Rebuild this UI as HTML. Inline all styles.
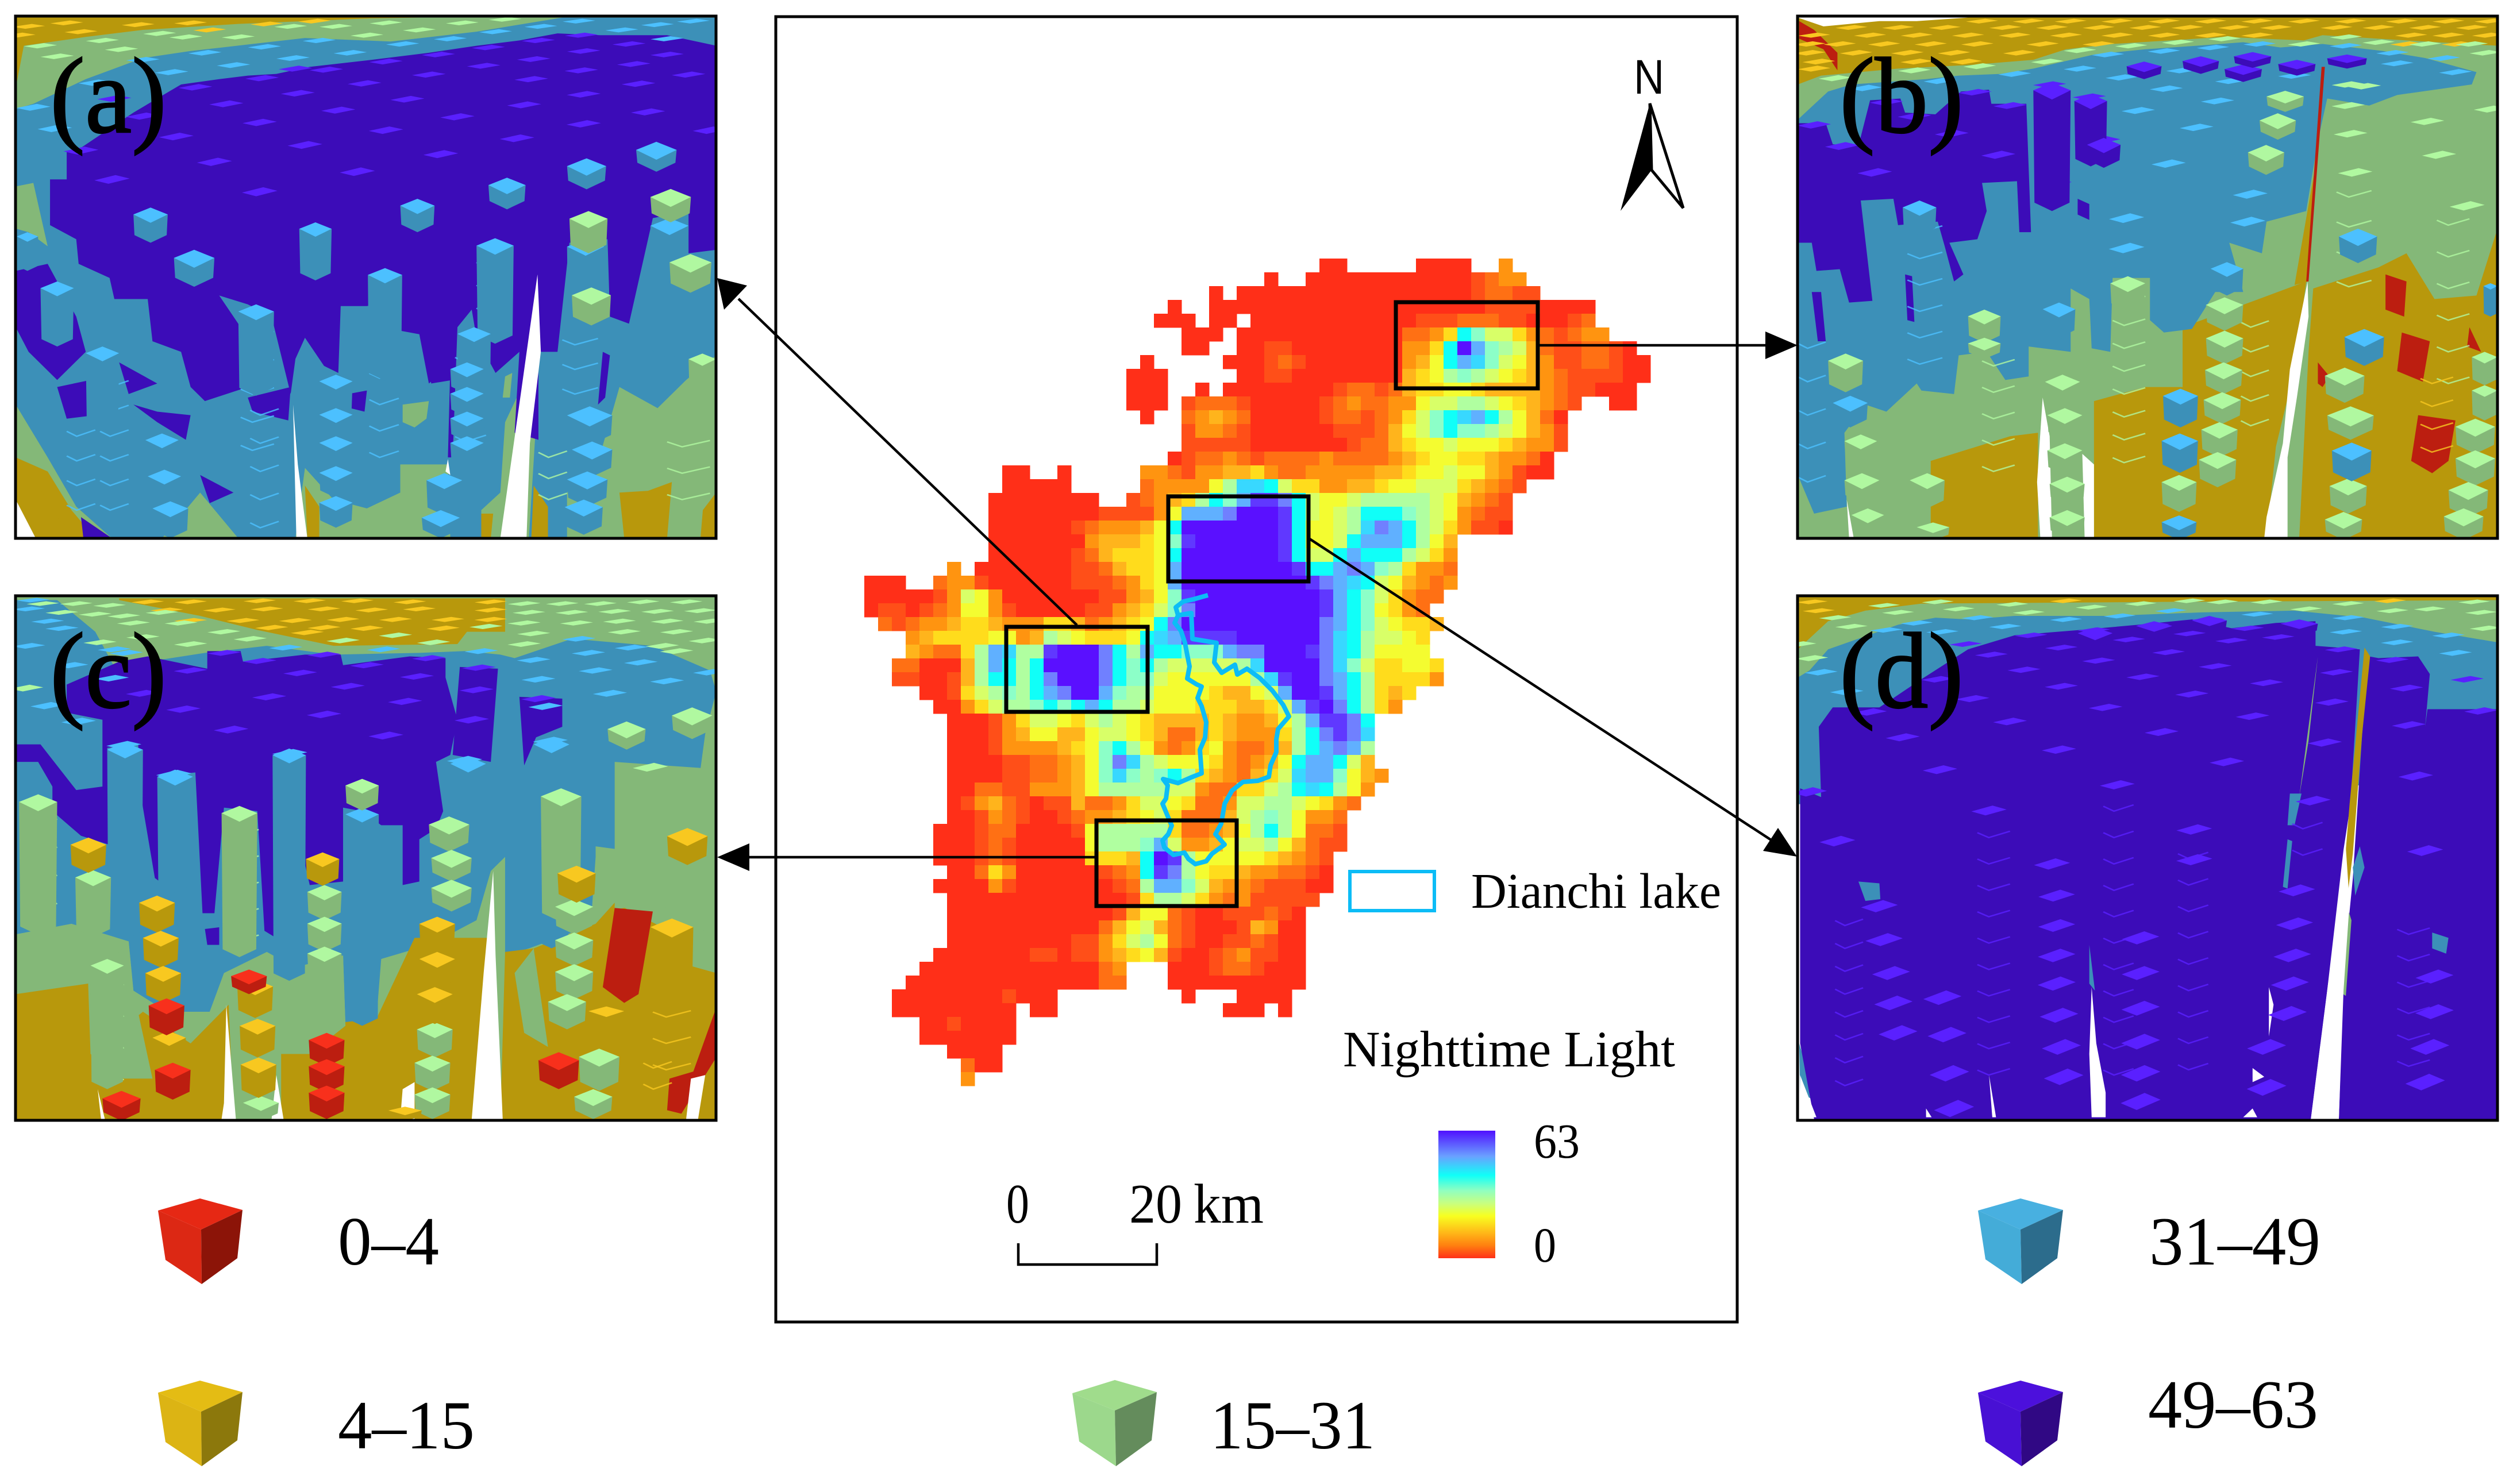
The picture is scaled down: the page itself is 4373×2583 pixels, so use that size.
<!DOCTYPE html>
<html lang="en">
<head>
<meta charset="utf-8">
<title>Nighttime light 3D block panels around Dianchi lake</title>
<style>
html,body{margin:0;padding:0;background:#fff}
svg{display:block}
text{font-family:"Liberation Serif",serif;fill:#000}
</style>
</head>
<body>
<svg id="fig" xmlns="http://www.w3.org/2000/svg" width="4373" height="2583" viewBox="0 0 4373 2583">
<defs>
<linearGradient id="nl-ramp" x1="0" y1="0" x2="0" y2="1">
<stop offset="0" stop-color="#5010ff"/><stop offset=".2" stop-color="#6aa0ff"/><stop offset=".35" stop-color="#10fff8"/><stop offset=".47" stop-color="#90ffc0"/><stop offset=".57" stop-color="#c8ff80"/><stop offset=".67" stop-color="#f8ff20"/><stop offset=".8" stop-color="#ffb818"/><stop offset=".9" stop-color="#ff8010"/><stop offset="1" stop-color="#ff3018"/>
</linearGradient>
<clipPath id="clip-a"><rect x="27" y="28" width="1219" height="909"/></clipPath>
<clipPath id="clip-b"><rect x="3128" y="28" width="1218" height="909"/></clipPath>
<clipPath id="clip-c"><rect x="27" y="1037" width="1219" height="913"/></clipPath>
<clipPath id="clip-d"><rect x="3128" y="1037" width="1218" height="913"/></clipPath>
</defs>
<rect width="4373" height="2583" fill="#fff"/>
<g id="panels"></g>
<rect x="1350" y="29" width="1673" height="2272" fill="none" stroke="#000" stroke-width="5"/>
<g id="map" shape-rendering="crispEdges"></g>
<polyline fill="none" stroke="#0cbcf6" stroke-width="8" stroke-linejoin="round" points="2102,1036 2077,1043 2059,1047 2046,1057 2050,1071 2044,1084 2055,1098 2062,1119 2066,1140 2070,1160 2066,1181 2082,1191 2091,1195 2084,1215 2091,1229 2099,1257 2097,1284 2088,1305 2091,1346 2073,1353 2050,1363 2024,1356 2032,1367 2029,1390 2023,1399 2033,1423 2039,1437 2033,1452 2023,1463 2026,1475 2042,1488 2061,1484 2068,1495 2080,1504 2099,1499 2109,1486 2131,1470 2115,1452 2125,1434 2128,1417 2131,1399 2144,1376 2163,1361 2189,1359 2208,1352 2211,1332 2221,1309 2221,1287 2224,1269 2243,1247 2233,1227 2214,1202 2192,1180 2170,1164 2153,1174 2149,1157 2126,1171 2113,1153 2117,1119 2075,1112 2073,1067 2050,1071"/>
<g fill="none" stroke="#000" stroke-width="7">
<rect x="1751" y="1091" width="246" height="148"/>
<rect x="2429" y="526" width="247" height="150"/>
<rect x="1908" y="1428" width="244" height="149"/>
<rect x="2033" y="864" width="244" height="148"/>
</g>
<g stroke="#000" stroke-width="4.5" fill="none">
<line x1="1874" y1="1088" x2="1285" y2="520"/>
<line x1="2676" y1="601" x2="3075" y2="601"/>
<line x1="1908" y1="1492" x2="1300" y2="1492"/>
<line x1="2279" y1="938" x2="3085" y2="1464"/>
</g>
<g fill="#000">
<polygon points="1248,484 1260,539 1300,497"/>
<polygon points="3128,601 3072,577 3072,625"/>
<polygon points="1248,1492 1304,1468 1304,1516"/>
<polygon points="3127,1491 3094,1441 3068,1481"/>
</g>
<g fill="none" stroke="#000" stroke-width="5">
<rect x="27" y="28" width="1219" height="909"/>
<rect x="3128" y="28" width="1218" height="909"/>
<rect x="27" y="1037" width="1219" height="913"/>
<rect x="3128" y="1037" width="1218" height="913"/>
</g>
<g font-size="188" stroke="#000" stroke-width="2.5">
<text x="87" y="230" textLength="203" lengthAdjust="spacingAndGlyphs">(a)</text>
<text x="3201" y="230" textLength="216" lengthAdjust="spacingAndGlyphs">(b)</text>
<text x="87" y="1231" textLength="203" lengthAdjust="spacingAndGlyphs">(c)</text>
<text x="3201" y="1231" textLength="216" lengthAdjust="spacingAndGlyphs">(d)</text>
</g>
<g>
<text x="2843" y="163" font-size="84" textLength="53" lengthAdjust="spacingAndGlyphs" style="font-family:'Liberation Sans',sans-serif">N</text>
<polygon points="2871,180 2820,367 2874,296" fill="#000"/>
<polygon points="2871,180 2929,362 2874,296" fill="#fff" stroke="#000" stroke-width="5"/>
</g>
<rect x="2349" y="1517" width="147" height="68" fill="none" stroke="#0cbcf6" stroke-width="6"/>
<text x="2560" y="1580" font-size="87" textLength="435" lengthAdjust="spacingAndGlyphs">Dianchi lake</text>
<text x="2337" y="1856" font-size="89" textLength="578" lengthAdjust="spacingAndGlyphs">Nighttime Light</text>
<rect x="2503" y="1968" width="99" height="222" fill="url(#nl-ramp)"/>
<text x="2669" y="2015" font-size="86" textLength="80" lengthAdjust="spacingAndGlyphs">63</text>
<text x="2669" y="2196" font-size="86" textLength="39" lengthAdjust="spacingAndGlyphs">0</text>
<text x="1751" y="2128" font-size="98" textLength="40" lengthAdjust="spacingAndGlyphs">0</text>
<text x="1965" y="2128" font-size="98" textLength="92" lengthAdjust="spacingAndGlyphs">20</text>
<text x="2077" y="2128" font-size="98" textLength="122" lengthAdjust="spacingAndGlyphs">km</text>
<polyline points="1772,2164 1772,2201 2013,2201 2013,2164" fill="none" stroke="#000" stroke-width="4.5"/>
<g id="cubes"></g>
</svg>
<script>
// Legend classes of the block panels
const classLabels = ['0–4', '4–15', '15–31', '31–49', '49–63'];
const classTop = ['#e62814', '#e4bc14', '#a0dc8c', '#48b0e0', '#4c10dc'];
const classLeft = ['#dc2814', '#dcb414', '#9cd88c', '#44acd8', '#4810d4'];
const classRight = ['#8c1408', '#8c780c', '#648c5c', '#2c6c8c', '#300884'];

// Nighttime light palette: index = level 0..15 of the map raster
const lightRamp = ['#ff2f18','#ff4f18','#ff7014','#ff9410','#ffb41c','#ffdc1c','#f4fc30','#d8ff68','#b0ffa0','#8cffc8','#10fff8','#38d8ff','#60b0ff','#7080ff','#6038ff','#5a10ff'];

// Map raster, row per 24 px, "startColumn:levels" runs
const lightRows = [
"34:00|41:00|43:00|47:3",
"30:0|33:000000000000|45:1233",
"26:0|28:0000000000000000|44:012211",
"23:0|26:0000000000000|39:0000000|46:11110|51:000",
"22:000|26:00|29:00000000000|40:0111222110|50:0012",
"24:000|28:000000000000|40:2235a97753|50:21233",
"24:00|28:0011|32:00000000|40:335afc9874|50:2112210",
"21:0|27:000121|33:0000000|40:346acb9764|50:31122100",
"20:000|28:0011|32:00000000|40:4568987654|50:32111100",
"20:000|25:0|27:00000000|35:12212|40:4556654444|50:3211000",
"20:000|24:12221|29:00000|34:123223|40:3677887654|50:321|55:00",
"21:0|24:23432|29:00000|34:12212|39:3579abca86|49:420",
"24:13321|29:000000|35:1112|39:4679a99876|49:431",
"24:11111|29:000000|35:0122|39:4566766654|49:331",
"23:012232|29:1222232222|39:345665543|48:320",
"11:00|15:0|21:33213344|29:5322333334|39:45667664|47:3100",
"11:00000|21:23333|26:68bba755|34:334456|40:677754321",
"10:00000000|20:123458a9ce|30:eda7667888|40:88764321",
"10:00000000|18:1111|22:36cccdff|30:fea76|35:78aaa|40:98763211",
"10:000000|16:123334|22:6a|24:fffffff|31:ea66|35:78bdc|40:a8753|45:110",
"10:0000000|17:34445|22:69|24:e|25:ffffff|31:ea66|35:7accc|40:a864",
"10:000000|16:124555|22:6a|24:fffffff|31:ea77|35:acaaa|40:8753",
"7:3|9:0000000|16:112455|22:6c|24:ffffffff|32:eaa|35:cdc98|40:5332",
"1:000|6:2331|10:000000|16:111235|22:6c|24:fffffffff|33:ed|35:cba76|40:4323",
"1:000|4:001376|10:3|11:0000000|18:1134|22:69e|25:fffffffff|34:e|35:ca975|40:322",
"1:011012366|10:3|11:1|12:00000|17:11345|22:79d|25:fffffffff|34:e|35:ca965|40:32",
"2:21|4:233455|10:433355|16:42345|21:6ad|24:ffffffffff|34:d|35:ca976|40:554",
"4:345555|10:6634876555|20:6abceeeeff|30:ffffdba877|40:65",
"4:432258|10:cb88efffda|20:8caa999cdd|30:fffedba866|40:66",
"3:22000|8:48|10:ca8affffda|20:9a8777778b|30:ffffdb9755|40:665",
"3:11|5:00148|10:aa8adfffda|20:9976666668|30:beffdca855|40:553",
"5:00157|10:898acdffc9|20:8866665446|30:7cffeca854|40:5",
"6:0035|10:7889a9aca8|20:8766655544|30:57cefda853",
"7:000|10:1357765787|20:6544445433|30:468ceeda",
"7:000|10:1346644677|20:6542245433|30:358adedb",
"7:000|10:133334569a|20:8632356322|30:348acdc8",
"7:0000|11:11223469d|20:b876665323|30:46acca74",
"7:0000|11:11223469b|20:989a854324|30:57bcc9643",
"7:00|9:22113334688|20:8887732255|30:78aba863",
"7:013|10:4210114223|20:5776522377|30:8876532",
"7:001|10:3210012334|20:5675222478|30:986332",
"6:0001|10:2200001688|20:8885223468|30:a86221",
"6:0001|10:2100000688|20:89c7334677|30:864211",
"6:0001|10:2100000555|20:4afe866666|30:54321",
"7:002|10:5300000012|20:3aed865543|30:32210",
"6:0000|10:3100000001|20:28cc974332|30:11100",
"7:0000000000000|20:1588753231|30:1111",
"7:000000000000|19:1|20:4662100111|30:210",
"7:00000000000|18:24|20:6742100014|30:300",
"7:000000000|16:1135|20:7862100112|30:100",
"6:0000000|13:1101134|20:5641001231|30:100",
"5:0000000000000|18:23|23:0001221000",
"4:00000000000000|18:22|23:0000000000",
"3:000000001000|24:0|28:0000",
"3:000000000|13:00|27:000|31:0",
"5:0010000",
"5:0000000",
"7:0000",
"8:200",
"8:3"
];
const mapLeft = 1480;
const mapTop = 450;
const mapCell = 24;

// Block colours of the perspective panels
const sideColor = {y:'#b8980c', g:'#84b878', b:'#3c90b8', i:'#3c0cb8', r:'#bc1e10', w:'#ffffff'};
const topColor = {y:'#f8c820', g:'#b0f8a0', b:'#4cc0ff', i:'#5a20ff', r:'#f8301c'};

// Panel (a): regions, cubes, block tops, stacked chevrons
const panelARegions = [
['y','33,45 1503,45 1503,1530 33,1530'],
['g','33,250 50,130 180,105 300,85 500,68 780,52 1100,45 1503,45 1503,1530 200,1530 150,1450 100,1340 33,1300'],
['b','33,310 70,295 180,225 300,165 400,145 530,125 640,108 820,118 1000,90 1180,50 1503,50 1503,1010 1440,1080 1380,1160 1300,1100 1260,1290 1190,1400 1190,1530 1110,1530 1125,1200 1130,1000 1060,1200 1050,1400 1010,1450 1010,1530 945,1530 940,1320 840,1320 840,1400 770,1445 700,1420 640,1330 620,1530 500,1530 420,1400 340,1530 235,1530 160,1440 100,1300 33,1150'],
['i','140,430 170,420 280,320 380,240 460,225 520,215 580,210 650,190 780,170 900,150 1000,130 1090,115 1170,95 1260,100 1400,100 1503,130 1503,710 1445,720 1445,600 1370,620 1320,920 1280,900 1275,680 1195,690 1170,1000 1130,1000 1130,1250 1080,1230 1090,1000 1040,1060 1000,960 990,880 960,930 950,1300 940,1300 945,1040 900,1090 880,950 840,940 840,850 770,870 715,870 710,1060 680,1040 640,960 620,1020 610,1120 570,900 520,865 460,840 520,960 520,1100 430,1140 400,1100 380,1000 320,970 310,850 240,850 230,790 165,750 160,680 105,640 105,510 140,510'],
['i','33,770 100,750 160,900 180,1000 120,1080 60,1000 33,930'],
['i','120,1100 190,1080 200,1180 140,1190'],
['i','250,1030 330,1090 270,1120'],
['i','280,1150 330,1170 400,1180 390,1250 330,1200'],
['i','420,1350 490,1400 440,1430'],
['i','520,1130 610,1100 605,1195 530,1170'],
['i','730,1120 770,1110 765,1170 735,1160'],
['i','900,1050 950,1030 950,1080 905,1090'],
['i','1265,1000 1280,1010 1270,1130 1255,1150'],
['i','170,1470 235,1530 175,1530'],
['y','33,1320 75,1370 125,1480 175,1530 33,1530'],
['y','1300,1400 1360,1395 1410,1370 1400,1530 1310,1530'],
['y','640,1380 670,1440 670,1530 645,1530'],
['y','1120,1380 1150,1440 1150,1530 1115,1530'],
['y','1010,1460 1035,1460 1030,1530 1010,1530'],
['y','1475,1450 1503,1400 1503,1530 1470,1530'],
['g','845,1150 900,1140 895,1190 870,1215 845,1200'],
['g','1060,1070 1075,1060 1070,1130 1055,1130'],
['g','33,530 70,520 100,700 60,660 33,650'],
['w','1128,780 1135,1000 1112,1260 1105,1530 1050,1530 1095,1100'],
['w','615,1150 622,1530 645,1530 625,1320'],
['w','33,1420 75,1530 33,1530'],
['w','940,1305 945,1350 935,1340']
];
const panelACubes = [
[1190,680,78,270,'b'],[1365,620,80,400,'b'],[1195,600,80,120,'g'],[1365,537,85,95,'g'],[1405,722,88,110,'g'],[1200,817,82,108,'g'],[1445,1005,58,120,'g'],
[840,565,72,95,'b'],[1025,505,78,90,'b'],[1190,450,82,88,'b'],[1335,403,85,85,'b'],[280,590,72,100,'b'],[628,632,68,165,'b'],[365,710,85,105,'b'],[1000,677,78,300,'b'],[772,762,72,320,'b'],[85,800,70,185,'b'],[500,865,75,260,'b'],[960,930,70,300,'b'],[180,985,70,240,'b'],[35,660,45,110,'b'],[670,1065,70,120,'b'],[1190,1155,95,110,'b'],[1200,1255,85,100,'b'],[1190,1340,85,100,'b'],[1185,1420,80,100,'b'],[895,1345,75,120,'b'],[885,1450,80,80,'b'],[305,1232,70,100,'b'],[310,1335,70,110,'b'],[320,1425,75,105,'b'],[670,1160,70,100,'b'],[670,1240,70,90,'b'],[670,1325,70,90,'b'],[670,1410,70,90,'b'],[945,1030,70,90,'b'],[945,1100,70,85,'b'],[945,1170,70,85,'b'],[945,1240,70,85,'b']
];
const panelATops = {
y:[[60,75],[140,65],[290,70],[400,65],[560,68],[660,60],[40,100],[170,90],[440,85]],
g:[[85,130],[120,160],[215,115],[255,140],[335,95],[390,105],[500,105],[610,75],[705,75],[810,65],[880,85],[970,65],[1060,55],[770,100]],
b:[[430,150],[490,185],[555,133],[615,165],[670,115],[735,150],[845,125],[945,110],[1040,90],[1135,75],[1215,60],[1305,85],[1380,70],[1455,60],[1400,110],[200,235],[300,170],[360,205],[70,305],[115,365]],
i:[[410,248],[550,222],[620,195],[685,198],[810,175],[920,155],[1025,135],[1130,115],[1220,100],[1320,125],[1400,155],[1225,145],[1120,168],[1015,187],[900,212],[765,237],[625,265],[475,295],[300,330],[240,280],[1330,182],[1220,200],[1115,225],[1445,212],[1340,238],[1225,268],[1100,298],[960,332],[855,282],[710,313],[545,348],[370,388],[810,370],[640,412],[1360,318],[1225,352],[1085,393],[1490,370],[925,438],[750,488],[450,460],[170,428],[235,510],[545,545]]
};
const panelAStacks = [[505,960,70,80,5,'b'],[955,1030,65,75,4,'b'],[775,850,62,75,7,'b'],[1000,760,65,65,3,'b'],[1180,980,75,70,3,'b'],[210,1100,60,70,6,'b'],[1400,1270,90,75,3,'g'],[140,1240,60,70,4,'b'],[525,1180,60,80,5,'b'],[1130,1300,60,60,3,'g']];

// Panel (b)
const panelBRegions = [
['y','35,45 1535,45 1535,1530 35,1530'],
['r','38,60 70,85 120,150 120,200 90,140 38,110'],
['g','35,240 85,215 250,195 400,185 540,170 610,140 710,125 950,105 1120,115 1160,100 1340,115 1535,130 1535,1530 35,1530'],
['y','860,930 1125,800 1100,1050 1060,1270 1040,1530 670,1530 670,1140 780,1100 860,1100'],
['y','490,1240 550,1230 550,1530 320,1530 320,1310'],
['y','1140,820 1280,760 1340,720 1400,850 1490,840 1535,650 1535,1530 1110,1530 1130,1000'],
['y','1125,620 1145,470 1130,800 1100,810'],
['b','35,340 100,260 150,240 310,225 380,215 470,210 540,195 670,155 780,140 890,130 990,120 1070,135 1160,125 1290,145 1380,165 1490,205 1480,240 1320,270 1260,300 1170,280 1150,400 1125,600 1040,630 1030,720 960,690 990,830 930,830 880,935 820,945 790,910 790,790 710,790 705,1000 665,990 660,850 620,820 620,1000 530,985 530,1070 480,1080 440,1000 380,1010 370,1120 300,1110 290,1090 225,1170 180,1150 135,1230 140,1440 70,1460 35,1350 35,890'],
['i','35,350 95,350 110,410 165,415 190,285 255,280 265,320 330,325 385,260 445,255 450,295 525,295 535,660 510,660 505,515 430,520 440,600 420,680 360,690 390,780 370,800 350,700 335,630 250,640 240,565 170,570 195,855 145,860 125,765 75,770 65,690 35,690'],
['i','265,780 280,785 285,915 270,910'],
['i','65,830 85,830 95,970 78,970'],
['i','635,565 660,580 660,625 635,610'],
['r','1295,780 1340,800 1335,900 1295,880'],
['r','1330,945 1390,970 1375,1085 1320,1055'],
['r','1365,1180 1445,1195 1430,1310 1395,1345 1350,1310'],
['r','1150,1030 1175,1070 1160,1100 1150,1090'],
['r','1475,930 1500,1000 1470,985'],
['r','1158,190 1165,190 1130,800 1125,800'],
['w','1128,800 1130,900 1105,1130 1085,1300 1085,1530 1035,1530 1040,1470 1075,1260 1090,1050'],
['w','560,1130 575,1240 580,1530 555,1530 548,1370'],
['w','645,1290 670,1320 670,1530 650,1530'],
['w','140,1420 155,1530 145,1530'],
['w','35,50 90,75 210,60 290,60 400,50 35,45']
];
const panelBCubes = [
[540,235,80,365,'i'],[628,268,70,205,'i'],[655,392,72,85,'i'],[740,175,75,50,'i'],[860,160,78,50,'i'],[950,183,80,50,'i'],[970,148,80,45,'i'],[1065,170,80,45,'i'],[1170,155,85,40,'i'],
[1040,258,80,60,'g'],[1025,322,78,75,'g'],[1000,412,78,85,'g'],
[400,880,70,95,'g'],[705,785,75,100,'g'],[910,845,80,95,'g'],[910,940,80,95,'g'],[908,1030,80,90,'g'],[905,1115,80,90,'g'],[900,1200,78,100,'g'],[895,1285,80,100,'g'],[815,1350,75,105,'g'],[1165,1045,85,100,'g'],[1170,1155,100,95,'g'],[1175,1360,80,100,'g'],[1165,1455,80,80,'g'],[1445,1190,85,100,'g'],[1445,1280,85,100,'g'],[1430,1370,85,100,'g'],[1420,1445,85,90,'g'],[1480,1095,55,100,'g'],[1480,1000,55,95,'g'],[275,1345,75,100,'g'],[135,1235,70,80,'g'],[135,1345,75,85,'g'],[150,1445,70,85,'g'],[290,1485,70,50,'g'],[400,960,70,60,'g'],[565,1065,75,90,'g'],[570,1160,75,90,'g'],[570,1260,75,90,'g'],[575,1355,75,80,'g'],[575,1450,75,80,'g'],[100,1005,75,110,'g'],
[1195,650,82,98,'b'],[1207,935,85,105,'b'],[818,1105,75,110,'b'],[815,1232,78,112,'b'],[1180,1258,85,110,'b'],[815,1465,75,70,'b'],[920,745,70,95,'b'],[110,1125,75,90,'b'],[560,860,70,100,'b'],[260,570,72,100,'b'],[1505,805,30,95,'b']
];
const panelBTops = {
y:[[430,60],[530,60],[620,60],[720,60],[820,60],[920,60],[1020,60],[1120,60],[1220,60],[1330,60],[1430,60],[1520,60],[150,78],[250,78],[350,78],[480,78],[580,78],[680,78],[780,78],[870,78],[970,78],[1060,78],[1190,78],[1280,78],[1380,78],[1480,78],[70,100],[190,100],[290,100],[400,100],[500,100],[610,100],[720,100],[820,100],[920,100],[1020,100],[1350,100],[1430,100],[1515,100],[60,125],[125,125],[220,125],[320,125],[420,125],[560,125],[680,125],[1340,125],[1450,125],[60,150],[160,150],[270,150],[370,150],[510,150],[80,175],[290,175],[395,175],[70,195]],
g:[[640,143],[750,130],[850,120],[950,110],[1120,125],[1210,105],[1280,120],[1380,125],[1480,125],[1510,150],[425,188],[570,175],[285,200],[115,222],[1215,240],[1215,300],[1220,380],[1385,345],[1410,440],[1230,490],[1470,585],[1520,310],[1250,245]],
b:[[820,145],[925,135],[1025,125],[1210,130],[1310,150],[1420,165],[1445,205],[1320,180],[700,155],[640,195],[500,210],[340,230],[180,250],[1100,215],[860,200],[965,230],[730,220],[825,252],[935,287],[890,362],[765,314],[830,465],[1005,552],[740,620],[740,705],[1000,630]],
i:[[575,240],[660,275],[415,262],[490,300],[225,290],[285,330],[70,355],[130,415],[365,380],[465,440],[200,490],[580,345],[690,398],[585,520]]
};
const panelBStacks = [[710,860,70,65,8,'g'],[270,660,75,75,6,'b'],[1190,560,75,85,4,'g'],[1405,640,70,90,6,'g'],[430,1040,70,75,5,'g'],[985,930,60,70,5,'g'],[35,990,60,95,5,'b'],[1370,1090,70,65,4,'y']];

// Panel (c)
const panelCRegions = [
['g','33,30 1503,30 1503,1520 33,1520'],
['y','250,35 1060,35 1060,130 980,130 960,165 700,170 540,125 420,85 250,40'],
['b','33,40 120,40 200,130 240,230 430,190 560,170 700,195 880,190 975,185 1050,195 1080,205 1200,150 1370,170 1490,240 1503,300 1480,420 1470,520 1330,520 1320,590 1305,750 1250,740 1250,770 1240,960 1210,980 1110,1030 1060,1050 1060,770 1030,810 1000,950 930,1000 900,1020 800,1060 790,1230 725,1250 720,1050 640,1100 560,1040 470,1100 440,1210 350,1210 280,1150 270,1010 150,960 33,990'],
['i','140,280 250,215 310,200 435,235 435,185 505,185 510,215 640,195 715,195 720,225 860,200 935,205 935,260 960,380 945,480 915,500 930,640 915,690 880,720 880,840 845,850 845,680 800,680 760,640 720,630 720,840 650,850 640,790 585,1005 555,980 540,640 470,630 450,930 425,930 410,530 335,540 345,850 325,830 295,590 290,450 225,460 240,740 170,710 110,640 110,570 80,500 33,500 33,450 85,450 160,580 215,570 215,380 140,360'],
['i','965,230 1045,235 1030,500 950,480'],
['i','1090,315 1180,320 1180,400 1125,430 1100,510'],
['i','430,975 460,970 460,1020 435,1020'],
['y','33,1160 185,1130 190,1330 300,1210 400,1300 480,1190 490,1520 33,1520'],
['y','590,1330 640,1320 720,1240 790,1230 870,1000 1000,1000 1030,1000 1040,1520 590,1520'],
['y','1060,1040 1120,1030 1250,960 1290,900 1503,1050 1503,1520 1050,1520'],
['g','190,1130 270,1010 280,1150 320,1400 260,1400 190,1330'],
['g','1290,500 1500,520 1503,1100 1450,1080 1370,900 1290,920'],
['g','1370,770 1503,700 1503,1000 1380,900'],
['g','570,1100 720,1050 725,1250 650,1330 590,1330'],
['g','1080,1100 1120,1030 1150,1310 1100,1270'],
['r','1290,915 1370,925 1340,1160 1310,1185 1265,1140'],
['r','1405,1400 1455,1380 1500,1210 1503,1340 1430,1500 1400,1490'],
['w','1035,810 1040,1050 1055,1515 990,1515 1015,1100'],
['w','475,1190 495,1515 465,1515 470,1470'],
['w','205,1430 220,1515 212,1515'],
['w','845,1430 870,1410 870,1515 840,1515'],
['w','1450,1400 1480,1390 1465,1515 1440,1515'],
['w','580,1390 595,1515 570,1515']
];
const panelCCubes = [
[225,445,75,560,'b'],[330,522,75,350,'b'],[572,462,70,660,'b'],[725,630,70,620,'b'],[945,485,75,400,'b'],[1120,430,75,600,'b'],
[725,548,70,90,'g'],[40,592,80,400,'g'],[158,808,75,190,'g'],[465,625,75,430,'g'],[645,850,72,100,'g'],[645,940,72,100,'g'],[645,1025,72,95,'g'],[900,655,85,100,'g'],[905,750,85,90,'g'],[905,835,85,90,'g'],[1135,575,85,380,'g'],[1165,890,80,100,'g'],[1165,985,80,95,'g'],[1165,1075,80,100,'g'],[1150,1160,80,100,'g'],[875,1240,75,100,'g'],[870,1335,75,100,'g'],[870,1425,75,90,'g'],[1215,1315,85,120,'g'],[1205,1430,80,85,'g'],[510,1450,75,70,'g'],[1275,385,80,80,'g'],[1410,345,85,90,'g'],[190,1060,70,370,'g'],
[148,715,75,100,'y'],[642,757,70,95,'y'],[292,880,75,105,'y'],[300,980,75,105,'y'],[305,1080,75,105,'y'],[880,940,75,105,'y'],[880,1040,75,105,'y'],[875,1140,75,105,'y'],[1170,795,80,105,'y'],[1400,688,85,105,'y'],[498,1118,75,110,'y'],[503,1230,75,110,'y'],[505,1340,75,115,'y'],[815,1480,70,40,'y'],[1235,1195,75,50,'y'],[1365,945,90,250,'y'],[320,1265,70,100,'y'],
[312,1172,75,105,'r'],[325,1355,75,105,'r'],[215,1435,80,85,'r'],[648,1270,75,95,'r'],[648,1345,75,95,'r'],[648,1420,75,95,'r'],[1130,1325,85,105,'r'],[485,1090,75,70,'r']
];
const panelCTops = {
y:[[310,45],[400,45],[545,42],[650,42],[750,42],[860,45],[1030,45],[350,68],[460,68],[560,65],[680,65],[780,68],[880,65],[1030,68],[400,98],[510,98],[620,98],[720,95],[830,95],[940,95],[1030,95],[570,118],[680,118],[770,120],[930,120],[645,132]],
g:[[90,50],[160,50],[230,55],[1100,50],[1180,50],[1260,50],[1350,45],[1440,45],[130,75],[200,80],[260,85],[340,75],[1110,75],[1200,75],[1290,72],[1380,72],[1470,70],[1020,115],[1100,105],[1210,105],[1300,100],[1400,100],[1490,100],[470,130],[380,105],[280,105],[210,160],[300,145],[400,165],[525,150],[720,155],[830,140],[910,160],[1120,135],[1310,130],[1420,130],[1100,165],[1390,170],[1480,155],[1420,185],[55,290],[1365,515]],
b:[[70,40],[60,65],[100,100],[60,170],[130,120],[150,225],[240,180],[265,190],[235,262],[165,385],[100,340],[600,175],[805,180],[1010,185],[1215,150],[1325,175],[1120,210],[1235,190],[1130,265],[1250,240],[1345,217],[1400,270],[1280,305],[1490,245],[1145,342],[1155,440],[260,452],[365,535],[608,475],[975,495]],
i:[[470,190],[545,213],[680,195],[770,225],[900,205],[400,240],[630,247],[875,257],[1005,232],[730,285],[300,305],[1000,295],[565,315],[850,328],[385,350],[680,365],[990,380],[485,408],[810,425],[1130,320]]
};
const panelCStacks = [[50,680,70,80,4,'g'],[478,710,65,75,5,'g'],[1140,660,75,70,4,'g'],[730,710,60,70,4,'b'],[340,610,60,70,3,'b'],[1370,1000,80,75,6,'y'],[200,1150,60,90,4,'g'],[1350,1370,60,60,2,'y']];

// Panel (d)
const panelDRegions = [
['y','35,30 1535,30 1535,220 35,260'],
['g','35,180 100,100 180,70 300,50 840,45 1535,40 1535,260 35,300'],
['b','35,260 60,240 100,180 250,110 330,90 400,95 500,85 700,85 900,75 1100,70 1250,90 1400,130 1535,160 1535,560 1380,560 80,620 35,620'],
['b','38,1300 70,1440 95,1480 40,1440'],
['i','40,575 85,600 80,400 110,345 210,345 300,265 400,180 500,140 640,125 765,110 880,95 965,120 1060,105 1145,100 1145,170 1240,180 1220,620 1205,750 1170,1150 1135,1515 70,1515 40,1300'],
['i','1260,200 1280,205 1365,200 1390,250 1380,400 1385,350 1535,350 1535,1515 1195,1515 1205,1100 1225,830 1245,420'],
['y','1250,175 1262,200 1245,420 1225,760 1212,900 1205,830 1218,620'],
['g','1150,200 1130,440 1110,600 1140,300'],
['b','1090,590 1115,590 1100,680 1085,680'],
['b','1085,720 1095,725 1085,860 1075,855'],
['b','165,840 210,845 212,890 180,895'],
['b','1395,985 1430,1000 1425,1045 1395,1030'],
['g','1215,920 1190,1040 1180,1140 1210,1165 1222,950'],
['b','1240,740 1250,800 1230,880 1225,800'],
['b','660,1020 672,1150 660,1130'],
['w','1210,745 1218,900 1205,1150 1195,1515 1135,1515 1170,1150'],
['w','40,1390 75,1510 40,1510'],
['w','445,1390 460,1510 452,1510'],
['w','665,1140 675,1300 695,1440 695,1510 665,1510 660,1330'],
['w','310,1485 322,1510 310,1510'],
['w','1010,1370 1035,1395 1010,1410'],
['w','990,1510 1010,1485 1020,1510'],
['w','1045,1140 1055,1190 1045,1280']
];
const panelDCubes = [[760,100,78,50,'i'],[880,85,75,48,'i'],[1070,95,80,45,'i'],[635,118,75,60,'i']];
const panelDTops = {
y:[[65,45],[80,70],[610,42],[1305,42]],
g:[[115,90],[150,115],[220,55],[250,75],[335,45],[380,65],[495,52],[530,75],[665,60],[770,50],[875,42],[945,45],[1040,45],[1125,65],[1215,50],[1310,70],[1390,65],[1485,45],[1500,75],[1510,120],[65,205],[40,165]],
b:[[85,245],[225,125],[290,105],[345,130],[420,90],[480,115],[610,95],[725,85],[835,70],[1020,80],[1215,90],[1210,130],[1320,115],[1320,160],[1430,140],[1445,190],[140,300]],
i:[[395,165],[450,195],[535,140],[600,175],[670,125],[745,152],[798,110],[915,95],[1000,120],[1105,105],[875,135],[965,155],[1065,145],[1200,180],[335,265],[520,238],[680,212],[775,258],[830,188],[930,228],[1040,275],[1190,245],[600,285],[1310,210],[880,307],[695,345],[1180,330],[410,320],[1340,290],[1470,265],[1500,355],[1345,395],[1010,370],[815,415],[490,385],[190,358],[1165,445],[595,465],[260,430],[955,500],[340,522],[1360,540],[720,565],[1140,610],[445,638],[60,585],[885,692],[120,725],[1380,752],[580,790],[1105,865],[885,778],[210,910],[590,880],[770,1000],[1100,960],[220,1005],[1400,1110],[770,1100],[1095,1050],[235,1100],[345,1170],[1400,1210],[240,1185],[770,1200],[355,1275],[1090,1130],[1040,1310],[1085,1215],[770,1295],[250,1270],[1390,1310],[360,1385],[1380,1410],[770,1385],[1040,1425],[770,1465],[370,1485],[590,1130],[590,1050],[590,965],[595,1220],[600,1310],[605,1395]]
};
const panelDStacks = [[420,715,70,75,10,'i'],[690,640,65,75,11,'i'],[850,775,65,75,9,'i'],[115,965,60,65,8,'i'],[1320,990,70,75,6,'i'],[1095,690,65,75,2,'i']];

const SVGNS = 'http://www.w3.org/2000/svg';
const panelsRoot = document.getElementById('panels');
const mapRoot = document.getElementById('map');
const cubesRoot = document.getElementById('cubes');

function node(parent, tag, attrs) {
  const el = document.createElementNS(SVGNS, tag);
  for (const k in attrs) el.setAttribute(k, attrs[k]);
  parent.appendChild(el);
  return el;
}

// Map raster
lightRows.forEach(function (row, r) {
  row.split('|').forEach(function (run) {
    const parts = run.split(':');
    const start = +parts[0];
    const levels = parts[1];
    for (let i = 0; i < levels.length; i++) {
      const level = parseInt(levels[i], 16);
      if (isNaN(level)) continue;
      const cell = node(mapRoot, 'rect', {x: mapLeft + (start + i) * mapCell, y: mapTop + r * mapCell, width: mapCell + .5, height: mapCell + .5, fill: lightRamp[level]});
      
      
    }
  });
});

function drawCube(g, c) {
  const x = c[0], y = c[1], w = c[2], h = c[3], k = c[4];
  const d = Math.min(w * .6, h * .6);
  const side = node(g, 'polygon', {points: x + ',' + (y + d * .45) + ' ' + (x + w) + ',' + (y + d * .45) + ' ' + (x + w * .97) + ',' + (y + h - d * .5) + ' ' + (x + w * .5) + ',' + (y + h) + ' ' + (x + w * .03) + ',' + (y + h - d * .5), fill: sideColor[k]});
  
  
  const top = node(g, 'polygon', {points: x + ',' + (y + d * .45) + ' ' + (x + w * .5) + ',' + y + ' ' + (x + w) + ',' + (y + d * .45) + ' ' + (x + w * .5) + ',' + (y + d), fill: topColor[k]});
  
  
}

function drawPanel(name, clip, ox, oy, sx, sy, regions, tops, stacks, cubes) {
  const outer = node(panelsRoot, 'g', {'clip-path': 'url(#' + clip + ')'});
  
  
  const g = node(outer, 'g', {transform: 'translate(' + ox + ' ' + oy + ') scale(' + sx + ' ' + sy + ')'});
  regions.forEach(function (r) {
    const poly = node(g, 'polygon', {points: r[1], fill: sideColor[r[0]]});
    
    
  });
  Object.keys(tops).forEach(function (k) {
    tops[k].forEach(function (t) {
      const w = 68 + t[1] * .012, h = 12 + t[1] * .025;
      const lo = node(g, 'polygon', {points: (t[0] - w / 2) + ',' + (t[1] + h * .1) + ' ' + (t[0] + w * .1) + ',' + (t[1] - h / 2) + ' ' + (t[0] + w / 2) + ',' + (t[1] - h * .1) + ' ' + (t[0] - w * .1) + ',' + (t[1] + h / 2), fill: topColor[k]});
      
      
    });
  });
  stacks.forEach(function (s) {
    for (let i = 0; i < s[4]; i++) {
      const y = s[1] + i * s[3];
      const ch = node(g, 'polyline', {points: s[0] + ',' + (y - 14) + ' ' + (s[0] + s[2] * .35) + ',' + y + ' ' + (s[0] + s[2]) + ',' + (y - 18), fill: 'none', stroke: topColor[s[5]], 'stroke-width': 4, opacity: .8});
      
      
    }
  });
  cubes.forEach(function (c) { drawCube(g, c); });
}

drawPanel('panel-a', 'clip-a', 0, 0, 1 / 1.206, 1 / 1.633, panelARegions, panelATops, panelAStacks, panelACubes);
drawPanel('panel-b', 'clip-b', 3100, 0, 1 / 1.232, 1 / 1.633, panelBRegions, panelBTops, panelBStacks, panelBCubes);
drawPanel('panel-c', 'clip-c', 0, 1020, 1 / 1.206, 1 / 1.633, panelCRegions, panelCTops, panelCStacks, panelCCubes);
drawPanel('panel-d', 'clip-d', 3100, 1020, 1 / 1.232, 1 / 1.633, panelDRegions, panelDTops, panelDStacks, panelDCubes);

// Class legend
const legendSpots = [
  {top:[348,2086], l:[275,2107], r:[422,2106], c:[350,2140], b:[351,2235], lb:[288,2193], rb:[413,2190], tx:588, ty:2201, tw:176},
  {top:[348,2403], l:[275,2424], r:[422,2423], c:[350,2457], b:[351,2552], lb:[288,2510], rb:[413,2507], tx:588, ty:2521, tw:238},
  {top:[1940,2402], l:[1866,2425], r:[2013,2423], c:[1940,2455], b:[1942,2552], lb:[1878,2509], rb:[2004,2507], tx:2106, ty:2521, tw:287},
  {top:[3516,2086], l:[3442,2107], r:[3590,2106], c:[3516,2140], b:[3518,2235], lb:[3455,2192], rb:[3580,2190], tx:3740, ty:2201, tw:298},
  {top:[3516,2403], l:[3442,2424], r:[3590,2423], c:[3516,2457], b:[3518,2552], lb:[3455,2509], rb:[3580,2507], tx:3738, ty:2485, tw:296}
];
function pts(list) { return list.map(function (p) { return p[0] + ',' + p[1]; }).join(' '); }
classLabels.forEach(function (label, i) {
  const s = legendSpots[i];
  const entry = node(cubesRoot, 'g', {});
  
  
  const lf = node(entry, 'polygon', {points: pts([s.l, s.c, s.b, s.lb]), fill: classLeft[i]});
  
  
  const rf = node(entry, 'polygon', {points: pts([s.c, s.r, s.rb, s.b]), fill: classRight[i]});
  
  
  const tf = node(entry, 'polygon', {points: pts([s.top, s.r, s.c, s.l]), fill: classTop[i]});
  
  
  const tx = node(entry, 'text', {x: s.tx, y: s.ty, 'font-size': 120, textLength: s.tw, lengthAdjust: 'spacingAndGlyphs'});
  
  
  tx.textContent = label;
});
</script>
</body>
</html>
